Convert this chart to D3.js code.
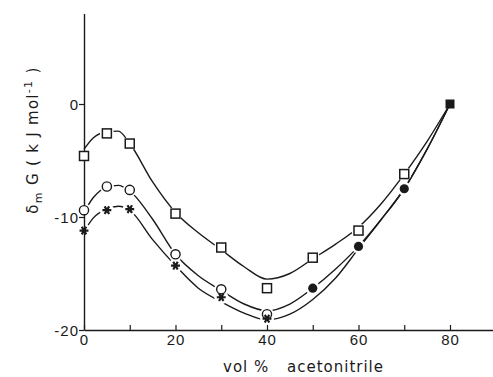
<!DOCTYPE html>
<html>
<head>
<meta charset="utf-8">
<script src="https://cdn.jsdelivr.net/npm/d3@7.9.0/dist/d3.min.js"></script>
<style>
  body { margin: 0; background: #fff; }
  svg { display: block; font-family: "DejaVu Sans", sans-serif; }
</style>
</head>
<body>
<svg id="chart" width="493" height="377"></svg>
<script>
// measured points (vol% acetonitrile, kJ/mol)
const squareX = [0, 5, 10, 20, 30, 40, 50, 60, 70];
const squareY = [-4.6, -2.6, -3.5, -9.7, -12.7, -16.3, -13.6, -11.2, -6.2];
const filledSquareX = [80];
const filledSquareY = [0];
const circleX = [0, 5, 10, 20, 30, 40];
const circleY = [-9.4, -7.3, -7.6, -13.3, -16.4, -18.6];
const filledCircleX = [50, 60, 70];
const filledCircleY = [-16.3, -12.6, -7.5];
const starX = [0, 5, 10, 20, 30, 40];
const starY = [-11.2, -9.4, -9.3, -14.3, -17.1, -19.0];

// smooth fitted curves drawn through the data
const fitX = [0, 2, 5, 7.5, 10, 15, 20, 25, 30, 35, 40, 45, 50, 55, 60, 65, 70, 75, 80];
const fitSquare = [-4.0, -3.0, -2.45, -2.4, -3.5, -6.9, -9.6, -11.4, -12.9, -14.4, -15.5, -15.0, -13.7, -12.4, -10.9, -8.8, -6.2, -3.3, 0];
const fitCircle = [-9.6, -8.3, -7.35, -7.2, -7.7, -10.2, -13.3, -15.2, -16.5, -17.7, -18.3, -17.7, -16.3, -14.6, -12.6, -10.2, -7.5, -4.0, 0];
const fitStar = [-11.3, -10.1, -9.3, -9.05, -9.4, -12.0, -14.3, -16.3, -17.5, -18.5, -19.1, -18.6, -17.3, -15.4, -12.8, -10.2, -7.5, -4.0, 0];

const xTicks = [0, 10, 20, 30, 40, 50, 60, 70, 80];
const yTicks = [0, -10, -20];

const svg = d3.select('#chart');
const ink = '#1a1a1a';

const x = d3.scaleLinear().domain([0, 90]).range([84, 84 + 90 * 4.575]);
const y = d3.scaleLinear().domain([-20, 8]).range([330, 330 - 28 * 11.3]);

// curves
const line = d3.line()
    .x(d => x(d[0]))
    .y(d => y(d[1]))
    .curve(d3.curveMonotoneX);

[fitSquare, fitCircle, fitStar].forEach(vals => {
    svg.append('path')
        .attr('d', line(fitX.map((v, i) => [v, vals[i]])))
        .attr('fill', 'none')
        .attr('stroke', ink)
        .attr('stroke-width', 1.4);
});

// little white gaps where the curves meet the markers
const allPts = [];
squareX.forEach((v, i) => allPts.push([v, squareY[i]]));
circleX.forEach((v, i) => allPts.push([v, circleY[i]]));
filledCircleX.forEach((v, i) => allPts.push([v, filledCircleY[i]]));
starX.forEach((v, i) => allPts.push([v, starY[i]]));
svg.append('g').selectAll('circle')
    .data(allPts)
    .join('circle')
    .attr('cx', d => x(d[0]))
    .attr('cy', d => y(d[1]))
    .attr('r', 7)
    .attr('fill', '#fff');

// axes
const xAxis = d3.axisBottom(x)
    .tickValues(xTicks)
    .tickSizeInner(-5)
    .tickSizeOuter(0)
    .tickPadding(4)
    .tickFormat(d => d % 20 === 0 ? String(d) : '');

const gx = svg.append('g')
    .attr('transform', `translate(0,${y(-20)})`)
    .call(xAxis);

const yAxis = d3.axisLeft(y)
    .tickValues(yTicks)
    .tickSizeInner(5)
    .tickSizeOuter(0)
    .tickPadding(0)
    .tickFormat(d => String(d));

const gy = svg.append('g')
    .attr('transform', `translate(${x(0)},0)`)
    .call(yAxis);

[gx, gy].forEach(g => {
    g.select('.domain').attr('stroke', ink).attr('stroke-width', 1.4);
    g.selectAll('.tick line').attr('stroke', ink).attr('stroke-width', 1.2);
    g.selectAll('.tick text')
        .attr('fill', ink)
        .style('font-size', '15px')
        .style('letter-spacing', '1px');
});
gy.selectAll('.tick text').attr('dy', '0.36em');

// markers
const sq = 9;
svg.append('g').selectAll('rect')
    .data(squareX.map((v, i) => [v, squareY[i]]))
    .join('rect')
    .attr('x', d => x(d[0]) - sq / 2)
    .attr('y', d => y(d[1]) - sq / 2)
    .attr('width', sq)
    .attr('height', sq)
    .attr('fill', '#fff')
    .attr('stroke', ink)
    .attr('stroke-width', 1.5);

svg.append('g').selectAll('rect')
    .data(filledSquareX.map((v, i) => [v, filledSquareY[i]]))
    .join('rect')
    .attr('x', d => x(d[0]) - sq / 2)
    .attr('y', d => y(d[1]) - sq / 2)
    .attr('width', sq)
    .attr('height', sq)
    .attr('fill', ink);

svg.append('g').selectAll('circle')
    .data(circleX.map((v, i) => [v, circleY[i]]))
    .join('circle')
    .attr('cx', d => x(d[0]))
    .attr('cy', d => y(d[1]))
    .attr('r', 4.6)
    .attr('fill', '#fff')
    .attr('stroke', ink)
    .attr('stroke-width', 1.4);

svg.append('g').selectAll('circle')
    .data(filledCircleX.map((v, i) => [v, filledCircleY[i]]))
    .join('circle')
    .attr('cx', d => x(d[0]))
    .attr('cy', d => y(d[1]))
    .attr('r', 4.6)
    .attr('fill', ink);

const star = d3.symbol().type(d3.symbolAsterisk).size(55);
svg.append('g').selectAll('path')
    .data(starX.map((v, i) => [v, starY[i]]))
    .join('path')
    .attr('transform', d => `translate(${x(d[0])},${y(d[1])}) rotate(90)`)
    .attr('d', star)
    .attr('fill', 'none')
    .attr('stroke', ink)
    .attr('stroke-width', 2.2);

// axis titles
const xt = svg.append('text')
    .attr('x', 223)
    .attr('y', 372)
    .attr('fill', ink)
    .style('font-size', '15px')
    .style('letter-spacing', '1px');
xt.append('tspan').text('vol %');
xt.append('tspan').attr('x', 287).text('acetonitrile');

const yt = svg.append('text')
    .attr('transform', 'translate(38,140) rotate(-90)')
    .attr('text-anchor', 'middle')
    .attr('fill', ink)
    .style('font-size', '15px')
    .style('letter-spacing', '1.3px');
yt.append('tspan').text('δ');
yt.append('tspan').attr('dy', 4).style('font-size', '11px').text('m');
yt.append('tspan').attr('dy', -4).text(' G ( k J  mol');
yt.append('tspan').attr('dy', -6).style('font-size', '11px').text('-1');
yt.append('tspan').attr('dy', 6).text(' )');
</script>
</body>
</html>
